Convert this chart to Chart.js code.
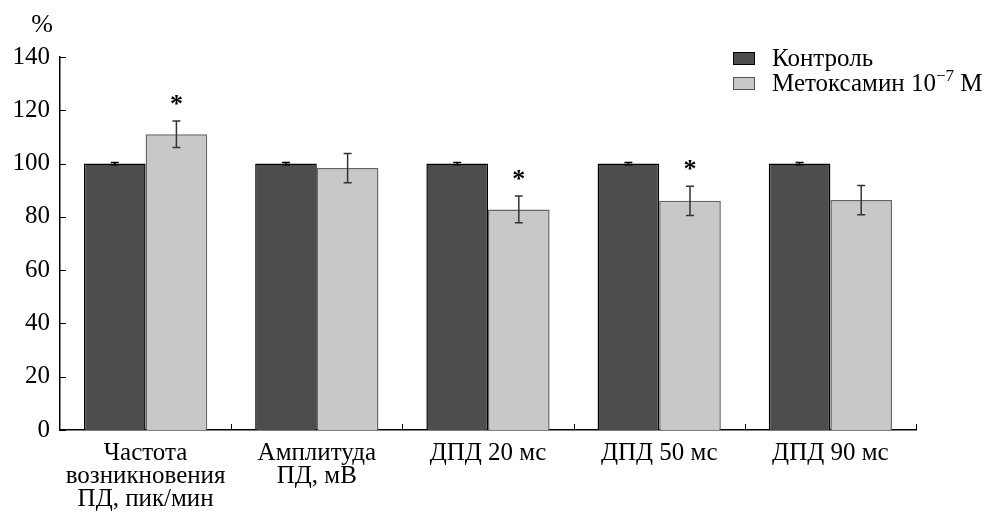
<!DOCTYPE html>
<html><head><meta charset="utf-8">
<script src="https://cdn.jsdelivr.net/npm/chart.js@4.4.1/dist/chart.umd.min.js"></script>
<style>html,body{margin:0;padding:0;background:#fff}#wrap{width:985px;height:513px}</style>
</head><body><div id="wrap"><canvas id="c" width="985" height="513"></canvas></div>
<script>
const categories = [["Частота","возникновения","ПД, пик/мин"],["Амплитуда","ПД, мВ"],"ДПД 20 мс","ДПД 50 мс","ДПД 90 мс"];
const controlValues = [100,100,100,100,100];
const controlErrors = [0.4,0.4,0.4,0.4,0.4];
const drugValues = [111,98.3,82.8,86,86.3];
const drugErrors = [5,5.5,5,5.5,5.5];
const significant = [true,false,true,true,false];
const yTicks = [0,20,40,60,80,100,120,140];
const seriesNames = ["Контроль","Метоксамин 10⁻⁷ М"];
const FONT = "'Liberation Serif', 'Times New Roman', serif";

const extras = {
  id:'extras',
  afterDatasetsDraw(chart){
    const ctx = chart.ctx, x = chart.scales.x, y = chart.scales.y;
    const area = chart.chartArea;
    ctx.save();
    [[0,controlValues,controlErrors,'#000'],[1,drugValues,drugErrors,'#333']].forEach(([di,vals,errs,col])=>{
      const meta = chart.getDatasetMeta(di);
      meta.data.forEach((bar,i)=>{
        const cx = bar.x;
        const top = y.getPixelForValue(vals[i]+errs[i]);
        const bot = y.getPixelForValue(vals[i]-errs[i]);
        ctx.strokeStyle = col; ctx.lineWidth = 1.5;
        ctx.beginPath();
        ctx.moveTo(cx,top); ctx.lineTo(cx,bot);
        ctx.moveTo(cx-4,top); ctx.lineTo(cx+4,top);
        ctx.moveTo(cx-4,bot); ctx.lineTo(cx+4,bot);
        ctx.stroke();
        if(di===1 && significant[i]){
          ctx.fillStyle='#000'; ctx.font = "bold 26px "+FONT;
          ctx.textAlign='center'; ctx.textBaseline='alphabetic';
          ctx.fillText('*', cx, top-9);
        }
      });
    });
    ctx.strokeStyle='#000'; ctx.lineWidth=1;
    ctx.beginPath();
    yTicks.forEach(v=>{const py=Math.round(y.getPixelForValue(v))+0.5; ctx.moveTo(area.left,py); ctx.lineTo(area.left+6,py);});
    const half = (x.getPixelForValue(1)-x.getPixelForValue(0))/2;
    for(let i=0;i<categories.length;i++){
      const px = Math.round(x.getPixelForValue(i)+half)+0.5;
      ctx.moveTo(px,area.bottom); ctx.lineTo(px,area.bottom-6);
    }
    ctx.stroke();
    ctx.fillStyle='#000'; ctx.font="26px "+FONT; ctx.textAlign='center'; ctx.textBaseline='middle';
    ctx.fillText('%', 42, 25);
    const colors=[['#4d4d4d','#000'],['#c8c8c8','#555']];
    seriesNames.forEach((n,i)=>{
      const ly = 58 + i*25;
      ctx.fillStyle=colors[i][0]; ctx.fillRect(733,ly-6,22,13);
      ctx.strokeStyle=colors[i][1]; ctx.lineWidth=1; ctx.strokeRect(733.5,ly-5.5,21,12);
      ctx.fillStyle='#000'; ctx.textAlign='left'; ctx.textBaseline='alphabetic';
      const base = ly + 8;
      const parts = n.split('⁻⁷');
      ctx.font="25px "+FONT;
      let tx = 772;
      ctx.fillText(parts[0], tx, base);
      if(parts.length>1){
        tx += ctx.measureText(parts[0]).width;
        ctx.font="17px "+FONT;
        ctx.fillText('−7', tx, base-10);
        tx += ctx.measureText('−7').width;
        ctx.font="25px "+FONT;
        ctx.fillText(parts[1], tx, base);
      }
    });
    ctx.restore();
  }
};

new Chart(document.getElementById('c'),{
  type:'bar',
  data:{labels:categories,datasets:[
    {label:seriesNames[0],data:controlValues,backgroundColor:'#4d4d4d',borderColor:'#000',borderWidth:1.5,barPercentage:1,categoryPercentage:0.72},
    {label:seriesNames[1],data:drugValues,backgroundColor:'#c8c8c8',borderColor:'#666',borderWidth:1.5,barPercentage:1,categoryPercentage:0.72}
  ]},
  options:{
    responsive:false,animation:false,
    layout:{padding:{top:57,right:69,left:0,bottom:0}},
    plugins:{legend:{display:false},tooltip:{enabled:false}},
    scales:{
      x:{offset:true,grid:{display:false},border:{display:true,color:'#000',width:1.5},
         ticks:{color:'#000',font:{family:FONT,size:25,lineHeight:0.92},padding:4,maxRotation:0,autoSkip:false},
         afterFit(s){s.height=83;}},
      y:{min:0,max:140,grid:{display:false},border:{display:true,color:'#000',width:1.5},
         ticks:{stepSize:20,color:'#000',font:{family:FONT,size:25},padding:2},
         afterFit(s){s.width=60;}}
    }
  },
  plugins:[extras]
});
</script></body></html>
